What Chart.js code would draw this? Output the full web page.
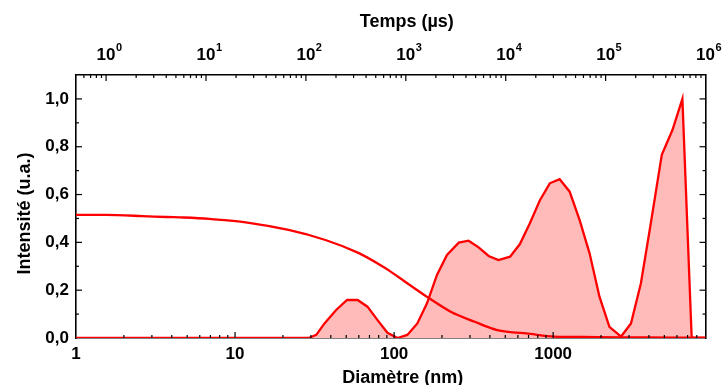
<!DOCTYPE html>
<html>
<head>
<meta charset="utf-8">
<script src="https://cdn.jsdelivr.net/npm/chart.js@4.4.1/dist/chart.umd.min.js"></script>
<style>
    html, body { margin: 0; padding: 0; background: #fff; }
</style>
</head>
<body>
<canvas id="grafico" width="724" height="385"></canvas>
<script>
// Distribution en taille (axe du bas, diamètre en nm)
let diametre = [1, 29, 32.4, 36.5, 43.2, 50.6, 59, 68, 78.7, 90.8, 105, 121, 140, 161, 186, 215, 255, 294, 340, 393, 453, 536, 618, 714, 824, 952, 1099, 1270, 1466, 1694, 1955, 2258, 2673, 3085, 3562, 4111, 4819, 5623, 6494, 7430, 9080]
let intensite = [0, 0, 0.013, 0.061, 0.117, 0.159, 0.159, 0.131, 0.075, 0.022, 0, 0.013, 0.061, 0.145, 0.264, 0.347, 0.399, 0.407, 0.379, 0.343, 0.326, 0.340, 0.393, 0.480, 0.575, 0.647, 0.664, 0.612, 0.494, 0.354, 0.173, 0.047, 0.006, 0.061, 0.229, 0.480, 0.766, 0.870, 1.0, 0, 0]

// Fonction de corrélation (axe du haut, temps en µs)
let temps = [0.5, 1, 2.3, 4, 6, 10.8, 25, 67, 157, 335, 621, 836, 1660, 2810, 4880, 8240, 17600, 30400, 81300, 257000, 1000000]
let correlation = [0.515, 0.515, 0.51, 0.506, 0.504, 0.498, 0.484, 0.452, 0.41, 0.356, 0.293, 0.256, 0.170, 0.110, 0.068, 0.033, 0.017, 0.006, 0.004, 0.002, 0.001]

// Graduations
let ticksDiametre = [1, 10, 100, 1000]
let ticksTemps = [1, 10, 100, 1000, 10000, 100000, 1000000]
let ticksIntensite = [0, 0.2, 0.4, 0.6, 0.8, 1.0]

const police = "'Liberation Sans', Arial, sans-serif"
const tailleTicks = 17
const padHaut = 9

// graduations vers l'intérieur (majeures et mineures)
const ticksInternes = {
    id: 'ticksInternes',
    afterDraw(chart) {
        const ctx = chart.ctx
        const area = chart.chartArea
        ctx.save()
        ctx.strokeStyle = '#000'
        ctx.lineWidth = 1.2

        function trait(x1, y1, x2, y2) {
            ctx.beginPath()
            ctx.moveTo(x1, y1)
            ctx.lineTo(x2, y2)
            ctx.stroke()
        }

        // axes log : 1..9 par décade
        for (const id of ['x', 'x2']) {
            const s = chart.scales[id]
            const e0 = Math.floor(Math.log10(s.min))
            const e1 = Math.ceil(Math.log10(s.max))
            for (let e = e0; e <= e1; e++) {
                for (let m = 1; m <= 9; m++) {
                    const v = m * Math.pow(10, e)
                    if (v < s.min || v > s.max) continue
                    const p = s.getPixelForValue(v)
                    if (p <= area.left + 1 || p >= area.right - 1) continue
                    const len = m === 1 ? 6 : 3
                    if (id === 'x') trait(p, area.bottom, p, area.bottom - len)
                    else trait(p, area.top, p, area.top + len)
                }
            }
        }

        // axes linéaires : pas de 0,1
        const sy = chart.scales.y
        for (let k = 0; k <= 11; k++) {
            const p = sy.getPixelForValue(k / 10)
            if (p >= area.bottom - 1 || p <= area.top + 1) continue
            const len = k % 2 === 0 ? 6 : 3
            trait(area.left, p, area.left + len, p)
            trait(area.right, p, area.right - len, p)
        }
        ctx.restore()
    }
}

// exposants des puissances de 10 et titres des axes
const textes = {
    id: 'textes',
    afterDraw(chart) {
        const ctx = chart.ctx
        const area = chart.chartArea
        const s = chart.scales.x2
        ctx.save()
        ctx.fillStyle = '#000'

        // exposants
        ctx.font = `bold ${tailleTicks}px ${police}`
        const w10 = ctx.measureText('10').width
        const milieu = area.top - padHaut - tailleTicks * 0.6
        ctx.font = `bold 11px ${police}`
        ctx.textAlign = 'left'
        ctx.textBaseline = 'middle'
        s.ticks.forEach(t => {
            const p = s.getPixelForValue(t.value)
            ctx.fillText(String(Math.round(Math.log10(t.value))), p + w10 / 2 + 0.5, milieu - 8)
        })

        // titres
        const cx = (area.left + area.right) / 2
        ctx.font = `bold 18px ${police}`
        ctx.textAlign = 'center'
        ctx.fillText('Temps (µs)', cx + 16, 22)
        ctx.fillText('Diamètre (nm)', cx + 12, 378)
        ctx.translate(25, (area.top + area.bottom) / 2 + 7)
        ctx.rotate(-Math.PI / 2)
        ctx.fillText('Intensité (u.a.)', 0, 0)
        ctx.restore()
    }
}

function axeLog(position, min, max, valeurs, etiquette, hauteur, tickPadding) {
    return {
        type: 'logarithmic',
        position: position,
        min: min,
        max: max,
        afterBuildTicks: s => { s.ticks = valeurs.map(v => ({ value: v })) },
        afterFit: s => { s.height = hauteur },
        ticks: {
            autoSkip: false,
            maxRotation: 0,
            padding: tickPadding,
            color: '#000',
            font: { family: police, size: tailleTicks, weight: 'bold' },
            callback: etiquette
        },
        grid: { display: false, drawTicks: false },
        border: { display: true, color: '#000', width: 1.6 }
    }
}

new Chart(document.getElementById('grafico'), {
    type: 'line',
    data: {
        datasets: [
            {
                label: 'Distribution',
                xAxisID: 'x',
                yAxisID: 'y',
                order: 2,
                data: diametre.map((d, i) => ({ x: d, y: intensite[i] })),
                borderColor: '#ff0000',
                backgroundColor: '#ffbaba',
                borderWidth: 2.3,
                pointRadius: 0,
                tension: 0,
                fill: 'origin'
            },
            {
                label: 'Corrélation',
                xAxisID: 'x2',
                yAxisID: 'y',
                order: 1,
                data: temps.map((t, i) => ({ x: t, y: correlation[i] })),
                borderColor: '#ff0000',
                borderWidth: 2.3,
                pointRadius: 0,
                tension: 0.3,
                fill: false
            }
        ]
    },
    options: {
        responsive: false,
        animation: false,
        devicePixelRatio: 1,
        layout: { padding: 0 },
        plugins: {
            legend: { display: false },
            tooltip: { enabled: false }
        },
        scales: {
            x: axeLog('bottom', 1, 9080, ticksDiametre, v => String(v), 47, 6),
            x2: axeLog('top', 0.5, 1000000, ticksTemps, v => '10', 75, padHaut),
            y: {
                type: 'linear',
                position: 'left',
                min: 0,
                max: 1.1,
                afterBuildTicks: s => { s.ticks = ticksIntensite.map(v => ({ value: v })) },
                afterFit: s => { s.width = 76 },
                ticks: {
                    padding: 7,
                    color: '#000',
                    font: { family: police, size: tailleTicks, weight: 'bold' },
                    callback: v => v.toFixed(1).replace('.', ',')
                },
                grid: { display: false, drawTicks: false },
                border: { display: true, color: '#000', width: 1.6 }
            },
            y2: {
                type: 'linear',
                position: 'right',
                min: 0,
                max: 1.1,
                afterFit: s => { s.width = 14 },
                ticks: { display: false },
                grid: { display: false, drawTicks: false },
                border: { display: true, color: '#000', width: 1.6 }
            }
        }
    },
    plugins: [ticksInternes, textes]
});
</script>
</body>
</html>
